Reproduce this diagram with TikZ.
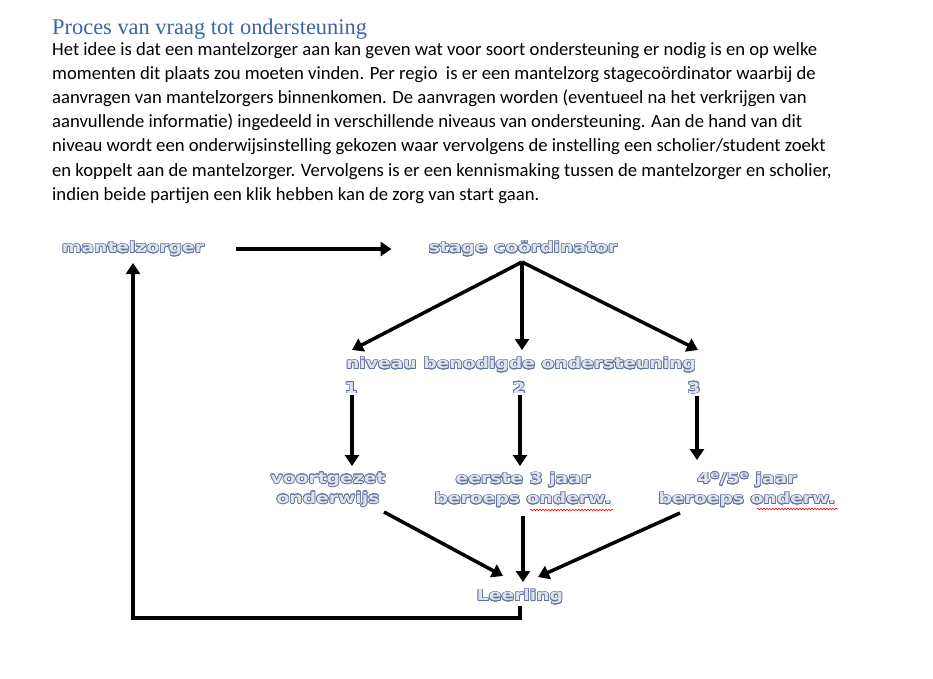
\documentclass[tikz,border=0pt]{standalone}
\usepackage{fontspec}
\usepackage[copies]{contour}
\usetikzlibrary{arrows.meta,decorations.pathmorphing}
\setmainfont{Carlito}
\newfontfamily\titlefont{Liberation Serif}
\newfontfamily\dfont[FakeStretch=1.25]{DejaVu Sans}
\definecolor{titleblue}{HTML}{3A66A6}
\definecolor{dfill}{HTML}{DDE2EC}
\definecolor{dline}{HTML}{62729A}
\contourlength{0.7pt}
\newcommand{\ct}[1]{\contour{dline}{#1}}
\tikzset{
  body/.style={anchor=base west, inner sep=0pt, font=\fontsize{18.65}{24}\selectfont},
  dnode/.style={inner sep=1pt, text=dfill, align=center, font=\dfont\bfseries\fontsize{15}{20}\selectfont},
  arr/.style={line width=3.5pt, line join=miter, -{Triangle[width=14pt,length=11pt]}},
  squig/.style={red, line width=0.6pt, decorate, decoration={snake, amplitude=0.8pt, segment length=3pt}}
}
\begin{document}
\begin{tikzpicture}[x=1pt,y=-1pt]
\useasboundingbox (0,0) rectangle (933,679);
\fill[white] (0,0) rectangle (933,679);
% title and body
\node[anchor=base west, inner sep=0pt, text=titleblue, font=\titlefont\fontsize{22.4}{24}\selectfont] (title) at (52,35) {Proces van vraag tot ondersteuning};
\node[body] (l1) at (52,56) {Het idee is dat een mantelzorger aan kan geven wat voor soort ondersteuning er nodig is en op welke};
\node[body] (l2) at (52,80) {momenten dit plaats zou moeten vinden. Per regio\ \ is er een mantelzorg stagecoördinator waarbij de};
\node[body] (l3) at (52,104) {aanvragen van mantelzorgers binnenkomen. De aanvragen worden (eventueel na het verkrijgen van};
\node[body] (l4) at (52,128) {aanvullende informatie) ingedeeld in verschillende niveaus van ondersteuning. Aan de hand van dit};
\node[body] (l5) at (52,152) {niveau wordt een onderwijsinstelling gekozen waar vervolgens de instelling een scholier/student zoekt};
\node[body] (l6) at (52,176) {en koppelt aan de mantelzorger. Vervolgens is er een kennismaking tussen de mantelzorger en scholier,};
\node[body] (l7) at (52,200) {indien beide partijen een klik hebben kan de zorg van start gaan.};
% diagram nodes
\node[dnode] (mz) at (133,249) {\ct{mantelzorger}};
\node[dnode] (sc) at (523,249) {\ct{stage coördinator}};
\node[dnode] (nv) at (521,365) {\ct{niveau benodigde ondersteuning}};
\node[dnode] (n1) at (351,388) {\ct{1}};
\node[dnode] (n2) at (519,388) {\ct{2}};
\node[dnode] (n3) at (694,388) {\ct{3}};
\node[dnode] (vo) at (328,490) {\ct{voortgezet}\\\ct{onderwijs}};
\node[dnode] (e3) at (523,490) {\ct{eerste 3 jaar}\\\ct{beroeps onderw.}};
\node[dnode] (v45) at (747,490) {\ct{4\textsuperscript{e}/5\textsuperscript{e} jaar}\\\ct{beroeps onderw.}};
\node[dnode] (ll) at (520,597) {\ct{Leerling}};
% coordinates for arrow ends
\coordinate (t1) at (352,350);
\coordinate (t2) at (522,350);
\coordinate (t3) at (698,350);
\coordinate (s0) at (522,262);
\coordinate (d1) at (352,466);
\coordinate (d2) at (520,466);
\coordinate (d3) at (697,460);
\coordinate (b1) at (384,512);
\coordinate (b3) at (680,513);
\coordinate (b2) at (523,516);
\coordinate (p1) at (503,576);
\coordinate (p2) at (523,582);
\coordinate (p3) at (538,577);
\coordinate (fb) at (133,618);
\coordinate (fe) at (133,263);
% connectors
\draw[arr, shorten <=31pt, shorten >=36pt] (mz) -- (sc);
\draw[arr] (s0) -- (t1);
\draw[arr] (s0) -- (t2);
\draw[arr] (s0) -- (t3);
\draw[arr] (n1.south -| d1) -- (d1);
\draw[arr] (n2.south -| d2) -- (d2);
\draw[arr] ([yshift=-1pt]n3.south -| d3) -- (d3);
\draw[arr] (b1) -- (p1);
\draw[arr] (b2) -- (p2);
\draw[arr] (b3) -- (p3);
\draw[arr] (ll.south) |- (fb) -- (fe);
% spell-check squiggles
\draw[squig] (530,510) -- (613,510);
\draw[squig] (757,509) -- (838,509);
\end{tikzpicture}
\end{document}
